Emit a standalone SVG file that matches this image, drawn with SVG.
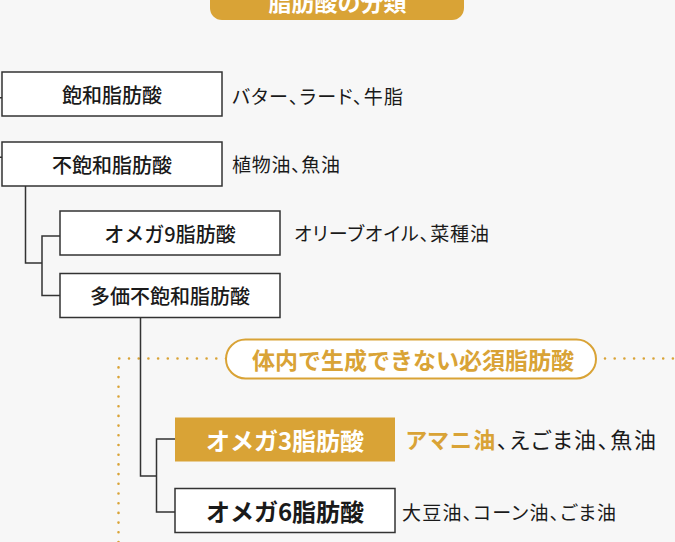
<svg xmlns="http://www.w3.org/2000/svg" width="675" height="542" viewBox="0 0 675 542">
<style>
text{font-family:"Noto Sans CJK JP","Noto Sans",sans-serif;}
.box{fill:#fff;stroke:#333;stroke-width:1.5;}
.gold{fill:#d9a336;}
.lbl{font-size:20px;font-weight:500;fill:#1a1a1a;text-anchor:middle;dominant-baseline:central;}
.big{font-size:24px;font-weight:700;text-anchor:middle;dominant-baseline:central;}
.side{font-size:19px;fill:#1a1a1a;dominant-baseline:central;font-feature-settings:"palt";}
.conn{fill:none;stroke:#333;stroke-width:1.5;}
.dots{fill:none;stroke:#d9a336;stroke-width:2.6;stroke-linecap:round;stroke-dasharray:0 9.7;}
</style>
<rect width="675" height="542" fill="#f7f7f7"/>
<g id="title">
<rect x="210" y="-20" width="254" height="40" rx="12" class="gold"/>
<text x="337.5" y="10.5" font-size="23" font-weight="700" fill="#fff" text-anchor="middle">脂肪酸の分類</text>
</g>
<g id="essential-frame">
<path class="dots" d="M226 358.5 H118.5 V542"/>
<path class="dots" d="M605 358.5 H675"/>
<rect x="226" y="339.5" width="370" height="39" rx="19.5" fill="#fff" stroke="#d9a336" stroke-width="2"/>
<text x="413" y="359" class="big" fill="#d9a336" style="font-size:23px">体内で生成できない必須脂肪酸</text>
</g>
<g id="connectors">
<path class="conn" d="M0 97.7 H2 M0 157.3 H2"/>
<path class="conn" d="M25.5 186 V263 H42"/>
<path class="conn" d="M60 236 H42 V295.5 H60"/>
<path class="conn" d="M140.5 317.5 V476 H156.5"/>
<path class="conn" d="M175 439 H156.5 V512 H175"/>
</g>
<g id="saturated">
<rect x="2" y="72" width="220" height="44" class="box"/>
<text x="112" y="94" class="lbl">飽和脂肪酸</text>
<text x="232" y="95.5" class="side" textLength="171" lengthAdjust="spacing">バター、ラード、牛脂</text>
</g>
<g id="unsaturated">
<rect x="2" y="142" width="220" height="44" class="box"/>
<text x="112" y="164" class="lbl">不飽和脂肪酸</text>
<text x="232" y="163" class="side" textLength="108" lengthAdjust="spacing">植物油、魚油</text>
</g>
<g id="omega9">
<rect x="60" y="211" width="220" height="44" class="box"/>
<text x="170" y="233" class="lbl">オメガ9脂肪酸</text>
<text x="294" y="232.5" class="side" textLength="195" lengthAdjust="spacing">オリーブオイル、菜種油</text>
</g>
<g id="polyunsaturated">
<rect x="60" y="273.5" width="220" height="44" class="box"/>
<text x="170" y="295.5" class="lbl">多価不飽和脂肪酸</text>
</g>
<g id="omega3">
<rect x="175" y="417.5" width="220" height="44" class="gold"/>
<text x="285" y="439.5" class="big" fill="#fff">オメガ3脂肪酸</text>
<text x="406" y="438" class="side" style="font-size:22px" textLength="250" lengthAdjust="spacing"><tspan fill="#d9a336" font-weight="700">アマニ油</tspan>、えごま油、魚油</text>
</g>
<g id="omega6">
<rect x="175" y="488.5" width="220" height="44" class="box"/>
<text x="285" y="510.5" class="big" fill="#1a1a1a">オメガ6脂肪酸</text>
<text x="402" y="511" class="side" textLength="214" lengthAdjust="spacing">大豆油、コーン油、ごま油</text>
</g>
</svg>
